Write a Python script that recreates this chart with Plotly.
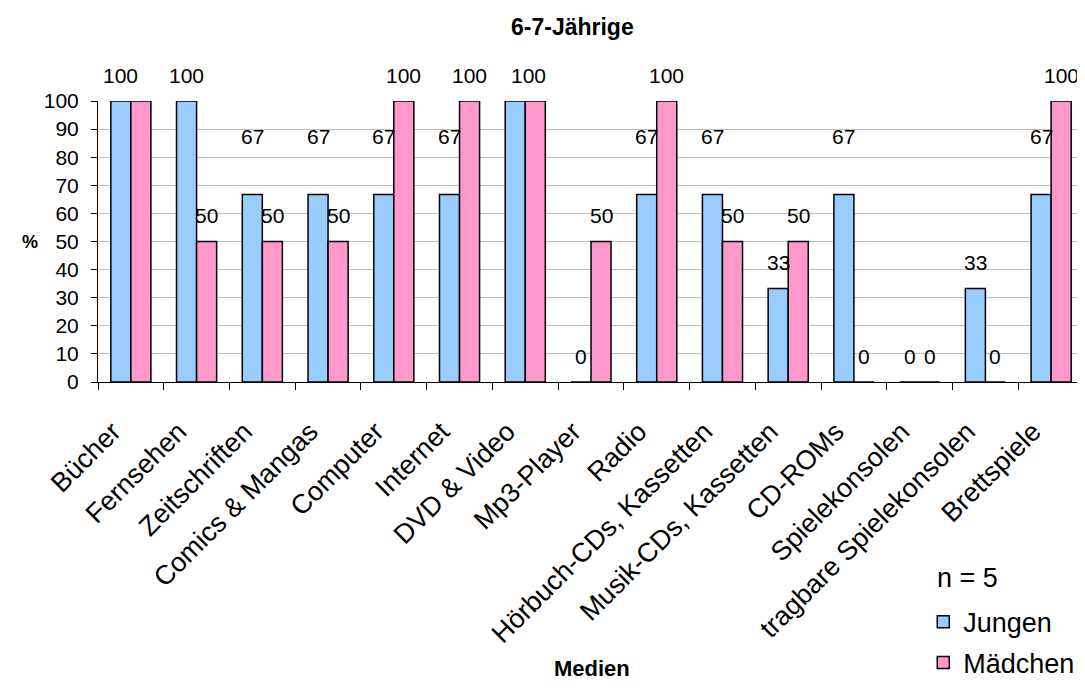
import plotly.graph_objects as go

categories = ["Bücher", "Fernsehen", "Zeitschriften", "Comics & Mangas", "Computer",
              "Internet", "DVD & Video", "Mp3-Player", "Radio", "Hörbuch-CDs, Kassetten",
              "Musik-CDs, Kassetten", "CD-ROMs", "Spielekonsolen", "tragbare Spielekonsolen",
              "Brettspiele"]
jungen = [100, 100, 66.7, 66.7, 66.7, 66.7, 100, 0, 66.7, 66.7, 33.3, 66.7, 0, 33.3, 66.7]
maedchen = [100, 50, 50, 50, 100, 100, 100, 50, 100, 50, 50, 0, 0, 0, 100]
# labels hidden in the original (overlapping labels)
hidden_jungen = {"DVD & Video"}
hidden_maedchen = {"Bücher"}

FONT = "Arial, Liberation Sans, sans-serif"
BLUE = "#99CCFF"
PINK = "#FF99CC"

fig = go.Figure()
fig.add_trace(go.Bar(x=categories, y=jungen, name="Jungen",
                     marker=dict(color=BLUE, line=dict(color="black", width=1.5)),
                     legend="legend"))
fig.add_trace(go.Bar(x=categories, y=maedchen, name="Mädchen",
                     marker=dict(color=PINK, line=dict(color="black", width=1.5)),
                     legend="legend2"))

annotations = []
def lift(v):
    return 58 if round(v) == 67 else 26

LABEL_FONT = dict(family=FONT, size=21, color="black")
for cat, v in zip(categories, jungen):
    if cat in hidden_jungen:
        continue
    annotations.append(dict(x=cat, y=v, xref="x", yref="y", text=str(round(v)),
                            showarrow=False, xshift=-10, yshift=lift(v), font=LABEL_FONT))
for cat, v in zip(categories, maedchen):
    if cat in hidden_maedchen:
        continue
    xs = 3 if cat in hidden_jungen else 10
    annotations.append(dict(x=cat, y=v, xref="x", yref="y", text=str(round(v)),
                            showarrow=False, xshift=xs, yshift=lift(v), font=LABEL_FONT))

annotations.append(dict(x=-0.069, y=0.498, xref="paper", yref="paper", text="<b>%</b>",
                        xanchor="center", yanchor="middle",
                        showarrow=False, font=dict(family=FONT, size=18, color="black")))
annotations.append(dict(x=0.501, y=-1.021, xref="paper", yref="paper", text="<b>Medien</b>",
                        xanchor="center", yanchor="middle",
                        showarrow=False, font=dict(family=FONT, size=22, color="black")))
annotations.append(dict(x=0.882, y=-0.696, xref="paper", yref="paper", text="n = 5",
                        xanchor="center", yanchor="middle",
                        showarrow=False, font=dict(family=FONT, size=27, color="black")))

fig.update_layout(
    width=1077, height=680,
    margin=dict(l=90, r=1, t=93, b=304),
    paper_bgcolor="white", plot_bgcolor="white",
    barmode="group", bargap=0.39, bargroupgap=0,
    showlegend=True,
    font=dict(family=FONT, color="black"),
    title=dict(text="<b>6-7-Jährige</b>", x=0.524, xanchor="center", y=0.972, yanchor="middle",
               font=dict(family=FONT, size=23, color="black")),
    xaxis=dict(type="category", showline=True, linecolor="black", linewidth=1,
               ticks="outside", ticklen=7, tickcolor="black", tickson="boundaries",
               tickangle=-45, tickfont=dict(family=FONT, size=27, color="black"),
               ticklabelstandoff=22, ticklabelshift=-18,
               showgrid=False, range=[-0.5, 14.5]),
    yaxis=dict(range=[0, 100], dtick=10, showline=True, linecolor="black", linewidth=1,
               ticks="outside", ticklen=6, tickcolor="black", ticklabelstandoff=8,
               tickfont=dict(family=FONT, size=21, color="black"),
               showgrid=True, gridcolor="#C0C0C0", gridwidth=1, zeroline=False),
    legend=dict(x=0.837, y=-0.855, xanchor="left", yanchor="middle",
                font=dict(family=FONT, size=27, color="black"), bgcolor="rgba(0,0,0,0)"),
    legend2=dict(x=0.837, y=-1.0, xanchor="left", yanchor="middle",
                 font=dict(family=FONT, size=27, color="black"), bgcolor="rgba(0,0,0,0)"),
    annotations=annotations,
)

fig.write_html("out.html")
